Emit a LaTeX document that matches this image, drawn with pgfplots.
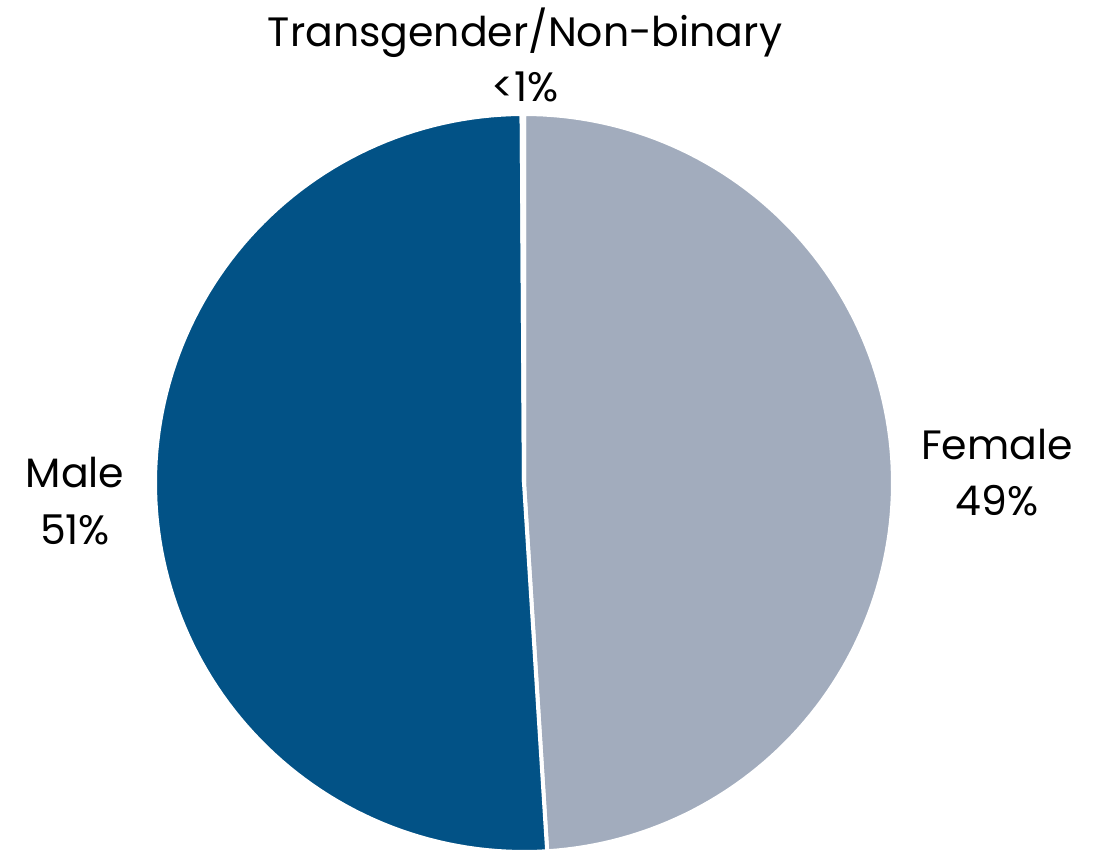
\documentclass[border=0pt]{standalone}
\usepackage{fontspec}
\setmainfont{Poppins}
\usepackage{pgfplots}
\usepackage{pgfplotstable}
\pgfplotsset{compat=1.18}

\definecolor{malecol}{HTML}{025286}
\definecolor{femalecol}{HTML}{A2ACBD}

% slice shares in percent, clockwise from 12 o'clock
\pgfplotstableread{
label value
Female 49.0
Male 50.9
Trans 0.1
}\piedata

\newcommand{\lbl}{\fontsize{20.5}{24}\selectfont}

\begin{document}%
\pgfplotstablegetelem{0}{value}\of\piedata\let\vF\pgfplotsretval%
\pgfplotstablegetelem{1}{value}\of\piedata\let\vM\pgfplotsretval%
\pgfplotstablegetelem{2}{value}\of\piedata\let\vT\pgfplotsretval%
\pgfmathsetmacro{\aA}{90}%
\pgfmathsetmacro{\aB}{\aA-3.6*\vF}%
\pgfmathsetmacro{\aC}{\aB-3.6*\vM}%
\pgfmathsetmacro{\aD}{\aC-3.6*\vT}%
\begin{tikzpicture}
\begin{axis}[width=552pt,height=425pt,scale only axis,
 xmin=0,xmax=1104,ymin=0,ymax=850,axis line style={draw=none},ticks=none,
 clip=true]
\addplot[fill=femalecol,draw=white,line width=2pt,domain=\aB:\aA,samples=120]
 ({524+369*cos(x)},{367+369*sin(x)}) -- (axis cs:524,367) -- cycle;
\addplot[fill=malecol,draw=white,line width=2pt,domain=\aC:\aB,samples=120]
 ({524+369*cos(x)},{367+369*sin(x)}) -- (axis cs:524,367) -- cycle;
\addplot[fill=malecol,draw=white,line width=2pt,domain=\aD:\aC,samples=5]
 ({524+369*cos(x)},{367+369*sin(x)}) -- (axis cs:524,367) -- cycle;
\end{axis}
\begin{axis}[width=552pt,height=425pt,scale only axis,
 xmin=0,xmax=1104,ymin=0,ymax=850,axis line style={draw=none},ticks=none,
 clip=false]
\node[anchor=base,font=\lbl] at (axis cs:525,803) {Transgender/Non-binary};
\node[anchor=base,font=\lbl] at (axis cs:525,748) {<1\%};
\node[anchor=base,font=\lbl] at (axis cs:75,362) {Male};
\node[anchor=base,font=\lbl] at (axis cs:75,305) {51\%};
\node[anchor=base,font=\lbl] at (axis cs:997,390) {Female};
\node[anchor=base,font=\lbl] at (axis cs:997,334) {49\%};
\end{axis}
\pgfresetboundingbox
\path[use as bounding box] (current axis.south west) rectangle (current axis.north east);
\end{tikzpicture}%
\end{document}
